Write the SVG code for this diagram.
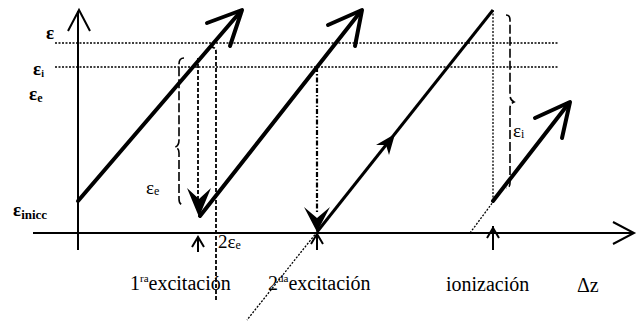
<svg xmlns="http://www.w3.org/2000/svg" width="640" height="321" viewBox="0 0 640 321">
<style>
  .ax { stroke:#000; stroke-width:2; fill:none; }
  .thick { stroke:#000; stroke-width:4; fill:none; stroke-linecap:round; stroke-linejoin:round; }
  .hd { stroke:#000; stroke-width:1.8; fill:none; stroke-dasharray:4,2; }
  .dot { stroke:#000; stroke-width:1.3; fill:none; stroke-dasharray:2,1.5; }
  .dd { stroke:#000; stroke-width:2.2; fill:none; stroke-dasharray:5,2,1.5,2; }
  .br { stroke:#000; stroke-width:1.6; fill:none; stroke-dasharray:9,3; }
  .fill { fill:#000; stroke:none; }
  text { font-family:"Liberation Serif","Times New Roman",serif; fill:#000; }
  .lab { font-size:20px; }
  .sym { font-size:19px; }
  .b { font-weight:bold; }
</style>
<rect width="640" height="321" fill="#fff"/>
<g id="axes">
  <line class="ax" x1="78" y1="11" x2="78" y2="250"/>
  <polyline class="ax" points="68,31 79,10 90,31"/>
  <line class="ax" x1="33" y1="233" x2="632" y2="233"/>
  <polyline class="ax" points="613,222 634,233 613,244"/>
  <line class="dot" x1="55" y1="43" x2="558" y2="43"/>
  <line class="dot" x1="55" y1="67" x2="558" y2="67"/>
</g>
<g id="connectors">
  <line class="thick" x1="78" y1="201" x2="241" y2="11"/>
  <polyline class="thick" points="207,23 242,10 230,46"/>
  <line class="hd" x1="198" y1="58" x2="198" y2="200"/>
  <path class="fill" d="M199,217 L187,188 L199,199 L211,188 Z"/>
  <line class="thick" x1="200" y1="216" x2="361" y2="11"/>
  <polyline class="thick" points="328,25 362,10 355,46"/>
  <line class="dd" x1="317" y1="67" x2="317" y2="212"/>
  <path class="fill" d="M317,232 L304,207 L317,218 L330,207 Z"/>
  <line stroke="#000" stroke-width="3" x1="317" y1="232" x2="493" y2="10"/>
  <path class="fill" d="M395,134 L389,155 L386,145 L376,145 Z"/>
  <line class="dot" x1="317" y1="232" x2="247" y2="320"/>
  <line class="dot" x1="493" y1="10" x2="493" y2="200"/>
  <line class="dot" x1="470" y1="233" x2="493" y2="202"/>
  <line class="thick" x1="493" y1="201" x2="569" y2="103"/>
  <polyline class="thick" points="535,118 570,102 562,138"/>
  <path class="hd" d="M211,47 Q216,47 216,52 L216,300"/>
  <path class="br" d="M184,58 Q179,58 179,64 L179,140 Q179,146 175,147 Q179,148 179,153 L179,199 Q179,205 184,205"/>
  <path class="br" d="M506,15 Q510,15 510,20 L510,95 Q510,100 514,102 Q510,104 510,108 L510,183 Q510,188 506,188"/>
  <line class="ax" x1="198" y1="237" x2="198" y2="252"/>
  <polyline class="ax" points="192,247 198,237 204,247"/>
  <line class="ax" x1="317" y1="233" x2="317" y2="250"/>
  <polyline class="ax" points="311,244 317,234 323,244"/>
  <line class="ax" x1="493" y1="226" x2="493" y2="250"/>
  <polyline class="ax" points="487,238 493,228 499,238"/>
</g>
<g id="labels">
  <text class="sym b" x="46" y="39">ε</text>
  <text class="sym b" x="33" y="75">ε<tspan font-size="10" dy="2">i</tspan></text>
  <text class="sym b" x="29" y="100">ε<tspan font-size="12" dy="2">e</tspan></text>
  <text class="sym b" x="13" y="216">ε<tspan font-size="13" dy="3">inicc</tspan></text>
  <text class="sym" x="146" y="194">ε<tspan font-size="12" dy="1">e</tspan></text>
  <text class="sym" x="218" y="248">2ε<tspan font-size="12" dy="1">e</tspan></text>
  <text class="sym" x="513" y="137">ε<tspan font-size="12" dy="1">i</tspan></text>
  <text class="lab" x="130" y="290">1<tspan font-size="11" dy="-8">ra</tspan><tspan dy="8">excitación</tspan></text>
  <text class="lab" x="268" y="290">2<tspan font-size="11" dy="-8">da</tspan><tspan dy="8">excitación</tspan></text>
  <text class="lab" x="446" y="291">ionización</text>
  <text class="lab" x="577" y="292">Δz</text>
</g>
</svg>
